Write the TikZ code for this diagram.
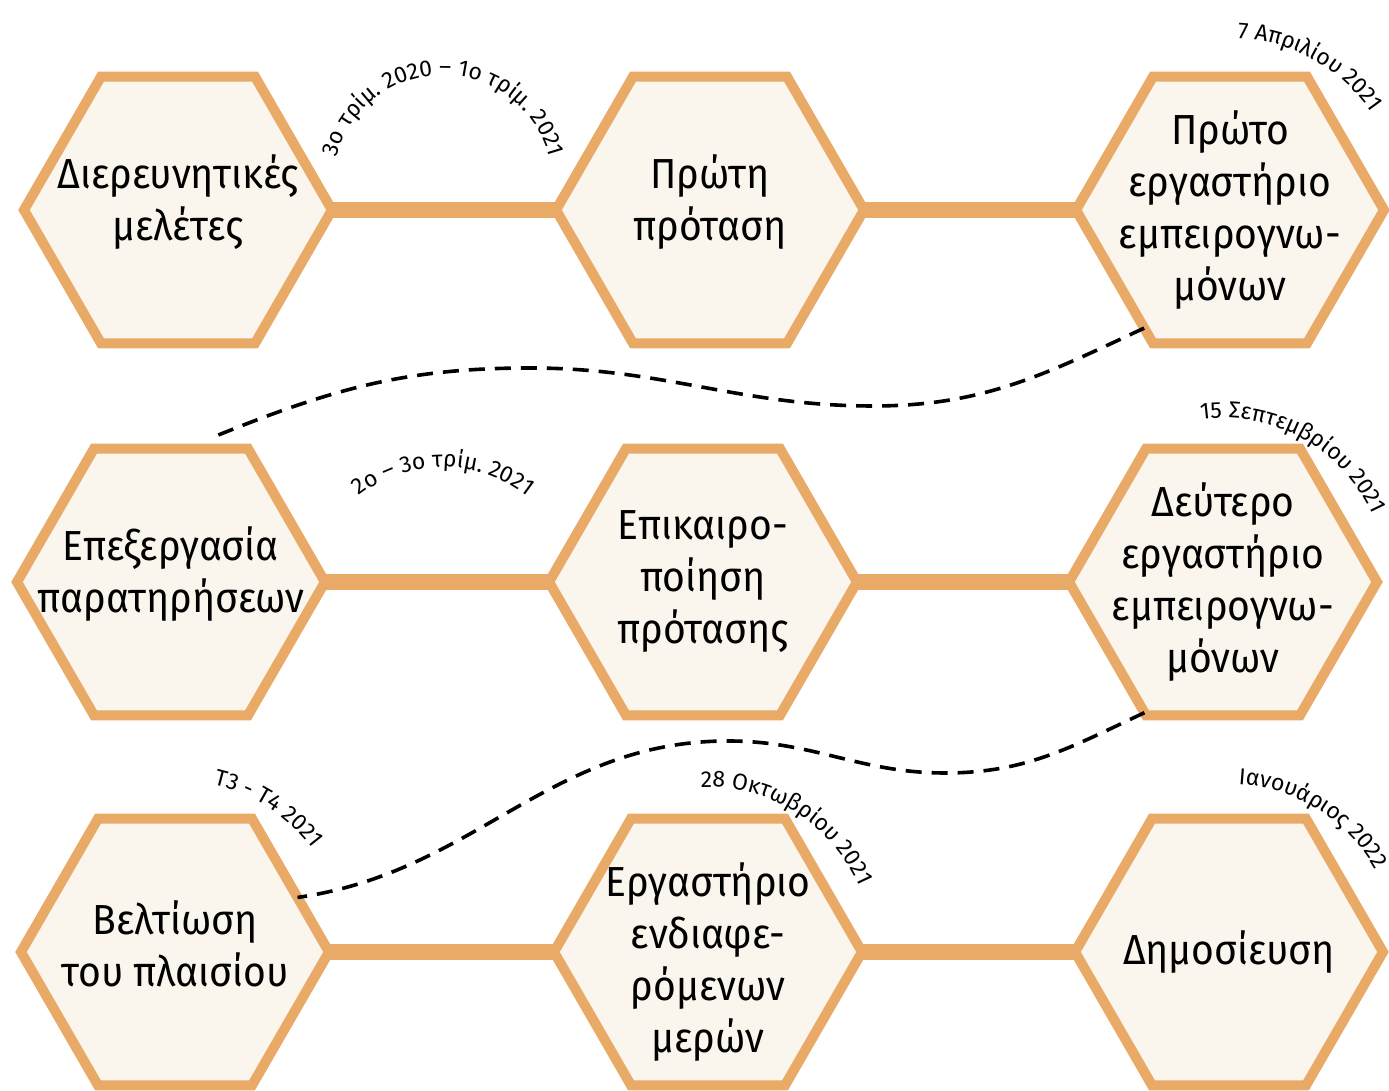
\documentclass[tikz,border=0pt]{standalone}
\usepackage{fontspec}
\setmainfont{Fira Sans}[FakeStretch=0.93]
\newfontfamily\datefamily{Fira Sans}
\usetikzlibrary{shapes.geometric,decorations.text}
\definecolor{hexline}{RGB}{233,169,103}
\definecolor{hexfill}{RGB}{250,246,238}
\newcommand{\datefont}{\datefamily\fontsize{11.5}{14}\selectfont}
\newcommand{\stepfont}{\fontsize{21}{26}\selectfont}
\tikzset{
	hexa/.style={regular polygon, regular polygon sides=6, minimum size=154pt,
		inner sep=0pt, outer sep=0pt, draw=hexline, fill=hexfill, line width=5pt},
	hexlabel/.style={align=center, font=\stepfont, inner sep=0pt},
	bar/.style={draw=hexline, line width=8pt},
	wave/.style={line width=1.8pt, dash pattern=on 8pt off 5pt},
	datearc/.style={decorate, decoration={text along path, text align=center,
		text={|\datefont|#1}}}
}

\begin{document}
\begin{tikzpicture}[x=0.5pt,y=0.5pt]
		\useasboundingbox (0,0) rectangle (1389,1091);
		\node[hexa] (h1) at (178,881) {};
		\node[hexa] (h2) at (710,881) {};
		\node[hexa] (h3) at (1230,881) {};
		\node[hexa] (h4) at (171,509) {};
		\node[hexa] (h5) at (703,509) {};
		\node[hexa] (h6) at (1223,509) {};
		\node[hexa] (h7) at (175,139) {};
		\node[hexa] (h8) at (708,139) {};
		\node[hexa] (h9) at (1229,139) {};
		\draw[bar] (h1.east) -- (h2.west);
		\draw[bar] (h2.east) -- (h3.west);
		\draw[bar] (h4.east) -- (h5.west);
		\draw[bar] (h5.east) -- (h6.west);
		\draw[bar] (h7.east) -- (h8.west);
		\draw[bar] (h8.east) -- (h9.west);
		\node[hexlabel] (t1) at ([yshift=4pt]h1) {Διερευνητικές\\μελέτες};
		\node[hexlabel] (t2) at ([yshift=4pt]h2) {Πρώτη\\πρόταση};
		\node[hexlabel] (t3) at (h3) {Πρώτο\\εργαστήριο\\εμπειρογνω-\\μόνων};
		\node[hexlabel] (t4) at ([yshift=4pt]h4) {Επεξεργασία\\παρατηρήσεων};
		\node[hexlabel] (t5) at (h5) {Επικαιρο-\\ποίηση\\πρότασης};
		\node[hexlabel] (t6) at (h6) {Δεύτερο\\εργαστήριο\\εμπειρογνω-\\μόνων};
		\node[hexlabel] (t7) at ([yshift=4pt]h7) {Βελτίωση\\του πλαισίου};
		\node[hexlabel] (t8) at ([yshift=-5pt]h8) {Εργαστήριο\\ενδιαφε-\\ρόμενων\\μερών};
		\node[hexlabel] (t9) at (h9) {Δημοσίευση};
		\draw[wave] (h3.234) to[out=205,in=0] (873,685) to[out=180,in=0] (530,723)
			to[out=180,in=22] ([yshift=6pt]h4.72);
		\draw[wave] (h6.239) to[out=205,in=0] (945,318) to[out=180,in=0] (728,350)
			to[out=180,in=8] (h7.24);
		\path[datearc={3ο τρίμ. 2020 – 1ο τρίμ. 2021}] (443,906) ++(180:110) arc[start angle=180, end angle=0, radius=110];
		\path[datearc={7 Απριλίου 2021}] (h3) ++(121:172) arc[start angle=121, end angle=1, radius=172];
		\path[datearc={2ο – 3ο τρίμ. 2021}] (443,488) ++(170:136) arc[start angle=170, end angle=10, radius=136];
		\path[datearc={15 Σεπτεμβρίου 2021}] (h6) ++(121:164) arc[start angle=121, end angle=1, radius=164];
		\path[datearc={Τ3 - Τ4 2021}] (h7) ++(117:172) arc[start angle=117, end angle=-3, radius=172];
		\path[datearc={28 Οκτωβρίου 2021}] (h8) ++(118:165) arc[start angle=118, end angle=-2, radius=165];
		\path[datearc={Ιανουάριος 2022}] (h9) ++(118:168) arc[start angle=118, end angle=-2, radius=168];
	\end{tikzpicture}
\end{document}
